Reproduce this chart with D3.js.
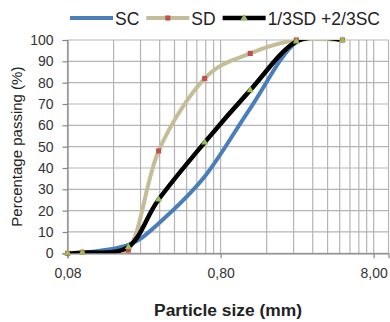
<!DOCTYPE html>
<html>
<head>
<meta charset="utf-8">
<script src="https://cdn.jsdelivr.net/npm/d3@7"></script>
<style>
  html, body { margin: 0; padding: 0; background: #fff; }
  svg { display: block; font-family: "Liberation Sans", Arial, sans-serif; }
</style>
</head>
<body>
<div id="chart"></div>
<script>
// Sieve sizes (mm) and percentage passing
const sizes = [0.08, 0.1, 0.2, 0.315, 0.63, 1.25, 2.5, 5];
const sc = [0, 0.2, 4, 14, 36, 68, 99, 100];
const sd = [0, 0.5, 1.5, 48, 82, 93.7, 100, 100];
const mix = [0, 0.3, 3, 25.2, 52, 76.5, 99.3, 100];

const xTicks = [0.08, 0.8, 8];
const xTickLabels = ['0,08', '0,80', '8,00'];
const yTicks = [0, 10, 20, 30, 40, 50, 60, 70, 80, 90, 100];

const series = [
  { name: 'SC', values: sc, color: '#4a7ebb', width: 4, marker: null },
  { name: 'SD', values: sd, color: '#c4bd97', width: 4, marker: 'square', markerColor: '#c0504d' },
  { name: '1/3SD +2/3SC', values: mix, color: '#000000', width: 4.5, marker: 'triangle', markerColor: '#9bbb59' }
];

const width = 390, height = 322;
const plot = { left: 67.5, right: 388.5, top: 40, bottom: 253.3 };

const svg = d3.select('#chart').append('svg')
  .attr('width', width)
  .attr('height', height);

const x = d3.scaleLog().domain([0.08, 10]).range([plot.left, plot.right]);
const y = d3.scaleLinear().domain([0, 100]).range([plot.bottom, plot.top]);

// Lines get clipped to the plot area like Excel does
svg.append('defs').append('clipPath').attr('id', 'plot-clip')
  .append('rect')
  .attr('x', plot.left).attr('y', plot.top)
  .attr('width', plot.right - plot.left).attr('height', plot.bottom - plot.top);

// Gridlines: Excel-style minor lines at k * 0.08 and k * 0.8
const minor = [];
[0.08, 0.8].forEach(base => {
  for (let k = 2; k <= 9; k++) minor.push(base * k);
});
const grid = svg.append('g').attr('stroke', '#b4b4b4').attr('stroke-width', 1.2);
grid.selectAll('line.v')
  .data(minor.concat(xTicks, [10]))
  .join('line')
  .attr('x1', d => x(d)).attr('x2', d => x(d))
  .attr('y1', plot.top).attr('y2', plot.bottom);
grid.selectAll('line.h')
  .data(yTicks)
  .join('line')
  .attr('x1', plot.left).attr('x2', plot.right)
  .attr('y1', d => y(d)).attr('y2', d => y(d));

// Axes
const yAxis = svg.append('g')
  .attr('transform', `translate(${plot.left},0)`)
  .call(d3.axisLeft(y).tickValues(yTicks).tickSize(5).tickPadding(9));
const xAxis = svg.append('g')
  .attr('transform', `translate(0,${plot.bottom})`)
  .call(d3.axisBottom(x).tickValues(xTicks).tickFormat((d, i) => xTickLabels[i]).tickSize(5).tickPadding(10));
[yAxis, xAxis].forEach(a => {
  a.select('.domain').attr('stroke', '#868686').attr('stroke-width', 1.2);
  a.selectAll('.tick line').attr('stroke', '#868686').attr('stroke-width', 1.2);
  a.selectAll('.tick text').attr('fill', '#333').attr('font-size', 14)
    .attr('font-family', '"Liberation Sans", Arial, sans-serif');
});

// Lines
const line = d3.line()
  .x(d => x(d[0]))
  .y(d => y(d[1]))
  .curve(d3.curveCardinal.tension(0));

const lineG = svg.append('g').attr('clip-path', 'url(#plot-clip)');
series.forEach(s => {
  const pts = sizes.map((v, i) => [v, s.values[i]]);
  lineG.append('path')
    .datum(pts)
    .attr('fill', 'none')
    .attr('stroke', s.color)
    .attr('stroke-width', s.width)
    .attr('stroke-linejoin', 'round')
    .attr('d', line);
});

const sym = { square: d3.symbolSquare, triangle: d3.symbolTriangle };
const markG = svg.append('g');
series.filter(s => s.marker).forEach(s => {
  markG.append('g')
    .selectAll('path')
    .data(sizes.map((v, i) => [v, s.values[i]]))
    .join('path')
    .attr('transform', d => `translate(${x(d[0])},${y(d[1])})`)
    .attr('d', d3.symbol().type(sym[s.marker]).size(s.marker === 'square' ? 26 : 22))
    .attr('fill', s.markerColor);
});

// Legend
const legend = svg.append('g').attr('font-size', 17.5).attr('fill', '#222');
let lx = 70;
series.forEach(s => {
  legend.append('line')
    .attr('x1', lx).attr('x2', lx + 43)
    .attr('y1', 18).attr('y2', 18)
    .attr('stroke', s.color).attr('stroke-width', s.width);
  if (s.marker) {
    legend.append('path')
      .attr('transform', `translate(${lx + 21.5},18)`)
      .attr('d', d3.symbol().type(sym[s.marker]).size(s.marker === 'square' ? 26 : 22))
      .attr('fill', s.markerColor);
  }
  const t = legend.append('text')
    .attr('x', lx + 45).attr('y', 25)
    .text(s.name);
  lx += 45 + t.node().getComputedTextLength() + 7;
});

// Axis titles
svg.append('text')
  .attr('transform', `translate(22,${(plot.top + plot.bottom) / 2}) rotate(-90)`)
  .attr('text-anchor', 'middle')
  .attr('font-size', 15)
  .attr('fill', '#222')
  .text('Percentage passing (%)');

svg.append('text')
  .attr('x', (plot.left + plot.right) / 2)
  .attr('y', 316)
  .attr('text-anchor', 'middle')
  .attr('font-size', 17.4)
  .attr('font-weight', 'bold')
  .attr('fill', '#222')
  .text('Particle size (mm)');
</script>
</body>
</html>
